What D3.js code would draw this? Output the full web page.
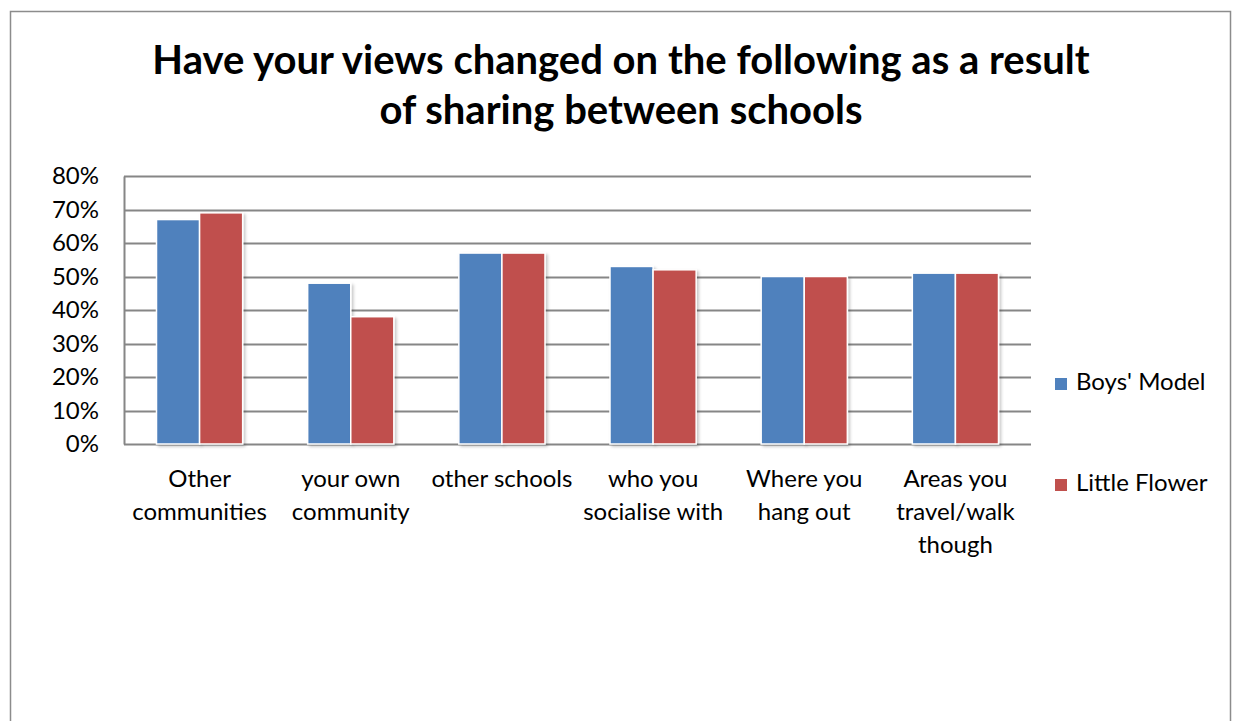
<!DOCTYPE html>
<html>
<head>
<meta charset="utf-8">
<script src="https://cdn.jsdelivr.net/npm/d3@7"></script>
<style>
  html, body { margin: 0; padding: 0; background: #fff; }
  svg { display: block; }
  text { font-family: Lato, "Open Sans", sans-serif; fill: #000; }
</style>
</head>
<body>
<svg id="chart" width="1233" height="721"></svg>
<script>
// Survey categories and the share of pupils answering "yes" for each school
const categories = [
  ["Other", "communities"],
  ["your own", "community"],
  ["other schools"],
  ["who you", "socialise with"],
  ["Where you", "hang out"],
  ["Areas you", "travel/walk", "though"]
];
const seriesNames = ["Boys' Model", "Little Flower"];
const boysModel = [0.67, 0.48, 0.57, 0.53, 0.50, 0.51];
const littleFlower = [0.69, 0.38, 0.57, 0.52, 0.50, 0.51];
const yTicks = [0, 0.1, 0.2, 0.3, 0.4, 0.5, 0.6, 0.7, 0.8];
const titleLines = ["Have your views changed on the following as a result", "of sharing between schools"];
const colors = ["#4f81bd", "#c0504d"];

const svg = d3.select("#chart");

// Shadow under each bar
const defs = svg.append("defs");
const f = defs.append("filter").attr("id", "shadow")
  .attr("x", "-20%").attr("y", "-5%").attr("width", "140%").attr("height", "110%");
f.append("feDropShadow").attr("dx", 2).attr("dy", 2).attr("stdDeviation", 1.5)
  .attr("flood-color", "#000").attr("flood-opacity", 0.22);

// Chart frame
svg.append("rect")
  .attr("x", 10.5).attr("y", 11.5).attr("width", 1220).attr("height", 740)
  .attr("fill", "none").attr("stroke", "#8c8c8c").attr("stroke-width", 1.5);

// Title
svg.append("text")
  .attr("text-anchor", "middle")
  .attr("font-weight", "bold")
  .attr("font-size", 40)
  .selectAll("tspan").data(titleLines).join("tspan")
  .attr("x", 621).attr("y", (d, i) => 74 + i * 50)
  .text(d => d);

const plot = { left: 124, right: 1031, top: 176, bottom: 444 };

const y = d3.scaleLinear().domain([0, 0.8]).range([plot.bottom, plot.top]);
const x0 = d3.scaleBand().domain(d3.range(categories.length))
  .range([plot.left, plot.right]).paddingInner(0.43).paddingOuter(0.215);
const x1 = d3.scaleBand().domain(d3.range(seriesNames.length))
  .range([0, x0.bandwidth()]);

// Gridlines
svg.append("g")
  .selectAll("line").data(yTicks).join("line")
  .attr("x1", plot.left).attr("x2", plot.right)
  .attr("y1", d => Math.round(y(d)) + 0.5).attr("y2", d => Math.round(y(d)) + 0.5)
  .attr("stroke", "#868686").attr("stroke-width", 2);

// Value axis
const yAxis = svg.append("g")
  .attr("transform", `translate(${plot.left},0)`)
  .call(d3.axisLeft(y).tickValues(yTicks).tickFormat(d3.format(".0%")).tickSize(0).tickPadding(25));
yAxis.select(".domain").attr("stroke", "#868686").attr("stroke-width", 2);
yAxis.selectAll("text").attr("font-size", 24).attr("font-family", "Lato, sans-serif").attr("fill", "#000");

// Bars
const series = [boysModel, littleFlower];
const groups = svg.append("g").selectAll("g").data(categories).join("g")
  .attr("transform", (d, i) => `translate(${x0(i)},0)`);
groups.selectAll("rect")
  .data((d, i) => series.map((s, k) => ({ k, v: s[i] })))
  .join("rect")
  .attr("x", d => x1(d.k))
  .attr("y", d => y(d.v))
  .attr("width", x1.bandwidth())
  .attr("height", d => plot.bottom - y(d.v))
  .attr("fill", d => colors[d.k])
  .attr("stroke", "#fff").attr("stroke-width", 1.5)
  .attr("filter", "url(#shadow)");

// Category labels
const labels = svg.append("g").selectAll("text").data(categories).join("text")
  .attr("text-anchor", "middle").attr("font-size", 24)
  .attr("transform", (d, i) => `translate(${x0(i) + x0.bandwidth() / 2},0)`);
labels.selectAll("tspan").data(d => d).join("tspan")
  .attr("x", 0)
  .attr("y", (d, j) => 487 + j * 33)
  .text(d => d);

// Legend
const legend = svg.append("g").selectAll("g").data(seriesNames).join("g")
  .attr("transform", (d, i) => `translate(1055,${390 + i * 101})`);
legend.append("rect").attr("x", 0).attr("y", -12).attr("width", 12).attr("height", 12)
  .attr("fill", (d, i) => colors[i]);
legend.append("text").attr("x", 21).attr("y", 0).attr("font-size", 24).text(d => d);
</script>
</body>
</html>
